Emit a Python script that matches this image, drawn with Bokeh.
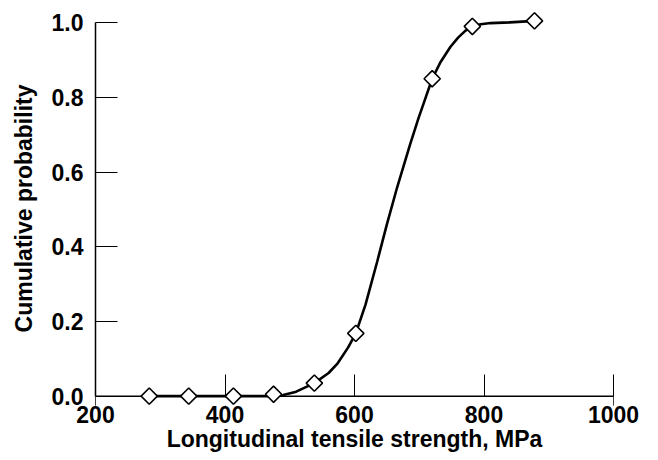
import math
from bokeh.plotting import figure
from bokeh.models import FixedTicker, PrintfTickFormatter, Range1d, BoxAnnotation, Span
from bokeh.embed import file_html
from bokeh.resources import INLINE

# measured points
strength = [283, 344, 413, 475, 538, 602, 720, 782, 878]
prob = [0.0, 0.0, 0.0, 0.005, 0.035, 0.168, 0.85, 0.99, 1.005]

# fitted curve
curve_x = [283, 400, 470, 490, 510, 538, 560, 574, 590, 602, 617, 635, 650, 666,
           686, 699, 710, 720, 733, 748, 760, 771, 782, 795, 810, 840, 878]
curve_y = [0.0, 0.0, 0.0, 0.003, 0.012, 0.035, 0.062, 0.088, 0.13, 0.168, 0.245,
           0.36, 0.46, 0.56, 0.675, 0.745, 0.80, 0.85, 0.895, 0.935, 0.96, 0.978,
           0.99, 0.996, 0.999, 1.001, 1.005]

x_ticks = [200, 400, 600, 800, 1000]
y_ticks = [0.0, 0.2, 0.4, 0.6, 0.8, 1.0]

FONT = "Liberation Sans"
Y0 = -0.025

p = figure(width=656, height=458, output_backend="svg", toolbar_location=None,
           x_range=Range1d(200, 1000), y_range=Range1d(Y0, 1.03),
           min_border_left=95, min_border_right=43, min_border_top=11,
           min_border_bottom=53)
p.grid.visible = False
p.outline_line_color = None
p.background_fill_color = "white"

# white cover for the strip below y = 0 (hides tick stubs there)
p.add_layout(BoxAnnotation(top=0, fill_color="white", fill_alpha=1.0,
                           line_color=None, level="annotation"))
# the x axis line at y = 0
p.add_layout(Span(location=0, dimension="width", line_color="black",
                  line_width=1.5, level="annotation"))

p.line(curve_x, curve_y, line_color="black", line_width=2.6, level="overlay")
p.scatter(strength, prob, marker="square", angle=math.pi / 4, size=11.5,
          fill_color="white", line_color="black", line_width=1.6, level="overlay")

for ax in (p.xaxis[0], p.yaxis[0]):
    ax.axis_line_color = "black"
    ax.axis_line_width = 1.5
    ax.major_tick_out = 0
    ax.major_tick_line_width = 1
    ax.major_tick_line_color = "black"
    ax.minor_tick_line_color = None
    ax.major_label_text_font = FONT
    ax.major_label_text_font_style = "bold"
    ax.major_label_text_font_size = "23px"
    ax.major_label_text_color = "black"
    ax.axis_label_text_font = FONT
    ax.axis_label_text_font_style = "bold"
    ax.axis_label_text_font_size = "23px"
    ax.axis_label_text_color = "black"

p.xaxis.ticker = FixedTicker(ticks=x_ticks)
p.yaxis.ticker = FixedTicker(ticks=y_ticks)
p.yaxis.formatter = PrintfTickFormatter(format="%.1f")
p.xaxis.axis_line_color = None
p.xaxis.major_tick_in = 22 + 9
p.yaxis.major_tick_in = 22
p.yaxis.bounds = (0, 1)
p.xaxis.major_label_standoff = 0
p.yaxis.major_label_standoff = 12
p.xaxis.axis_label = "Longitudinal tensile strength, MPa"
p.yaxis.axis_label = "Cumulative probability"
p.xaxis.axis_label_standoff = 0
p.yaxis.axis_label_standoff = 12

open("out.html", "w").write(file_html(p, INLINE))
